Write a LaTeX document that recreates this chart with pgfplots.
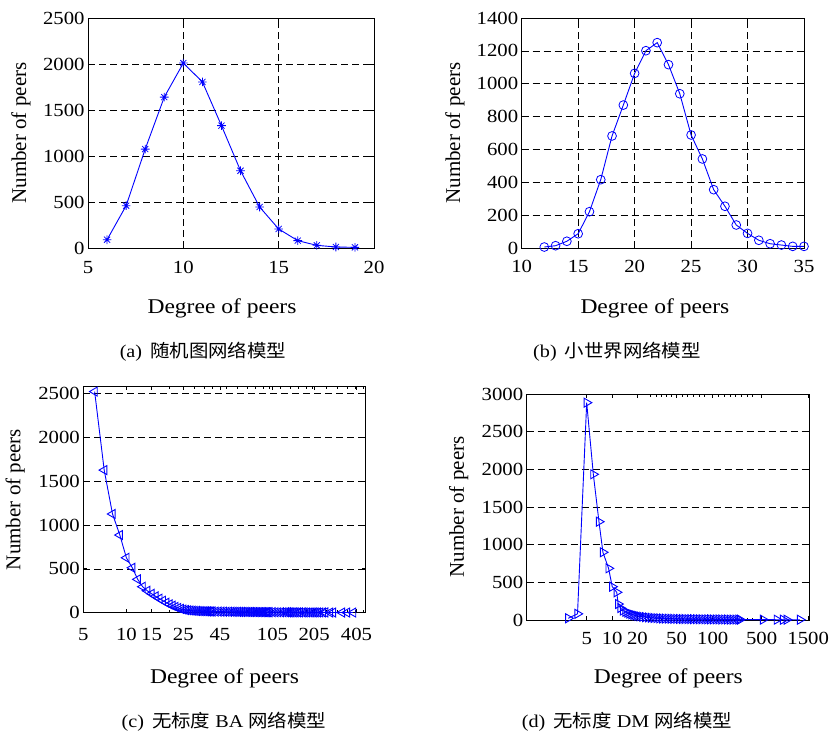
\documentclass[border=0pt]{standalone}
\usepackage{pgfplots}
\pgfplotsset{compat=1.18}
\usepackage{fontspec}
\setmainfont{Liberation Serif}[FakeStretch=1.12]
\newfontfamily\plainserif{Liberation Serif}
\newfontfamily\cjk{Noto Sans CJK SC}[FakeStretch=1.08]
\newcommand\ticksz{\fontsize{18.5bp}{20bp}\selectfont}
\newcommand\labsz{\fontsize{21bp}{24bp}\selectfont}
\newcommand\capsz{\fontsize{18bp}{20bp}\selectfont}

\pgfdeclareplotmark{mstar}{%
  \pgfpathmoveto{\pgfqpoint{-\pgfplotmarksize}{0pt}}\pgfpathlineto{\pgfqpoint{\pgfplotmarksize}{0pt}}%
  \pgfpathmoveto{\pgfqpoint{0pt}{-\pgfplotmarksize}}\pgfpathlineto{\pgfqpoint{0pt}{\pgfplotmarksize}}%
  \pgfpathmoveto{\pgfqpoint{-0.707\pgfplotmarksize}{-0.707\pgfplotmarksize}}\pgfpathlineto{\pgfqpoint{0.707\pgfplotmarksize}{0.707\pgfplotmarksize}}%
  \pgfpathmoveto{\pgfqpoint{-0.707\pgfplotmarksize}{0.707\pgfplotmarksize}}\pgfpathlineto{\pgfqpoint{0.707\pgfplotmarksize}{-0.707\pgfplotmarksize}}%
  \pgfusepathqstroke}

\pgfplotsset{
  mystyle/.style={
    scale only axis, anchor=south west,
    axis line style={line width=1bp, black},
    tick align=inside, major tick length=4bp, minor tick length=2.5bp,
    tick style={black, line width=0.7bp},
    grid style={black, line width=0.6bp, dash pattern=on 7bp off 4bp},
    every tick label/.append style={font=\ticksz},
    /pgf/number format/assume math mode=true,
    /pgf/number format/1000 sep={},
    scaled ticks=false,
    xlabel={Degree of peers}, ylabel={Number of peers},
    xlabel style={font=\labsz, anchor=center},
    ylabel style={font=\plainserif\labsz, anchor=center},
  },
  myline/.style={blue, line width=0.9bp, mark options={solid, line width=0.8bp}},
}

\begin{document}
\begin{tikzpicture}
\path[use as bounding box] (0,0) rectangle (831bp,-738bp);

% (a)
\begin{axis}[mystyle, at={(88bp,-248bp)}, width=286bp, height=230bp,
  xmin=5, xmax=20, ymin=0, ymax=2500,
  xtick={5,10,15,20}, ytick={0,500,1000,1500,2000,2500},
  grid=major,
  xticklabel style={yshift=-10bp},
  xlabel style={at={(axis description cs:0.4685,-0.261)}},
  ylabel style={at={(axis description cs:-0.234,0.5)}}]
\addplot[myline, mark=mstar, mark size=4.3bp] table {
6 90
7 460
8 1075
9 1640
10 2010
11 1805
12 1330
13 840
14 446
15 207
16 80
17 29
18 11
19 7
};
\end{axis}

% (b)
\begin{axis}[mystyle, at={(521.7bp,-248bp)}, width=282.3bp, height=230bp,
  xmin=10, xmax=35, ymin=0, ymax=1400,
  xtick={10,15,20,25,30,35}, ytick={0,200,400,600,800,1000,1200,1400},
  grid=major,
  xticklabel style={yshift=-9bp},
  xlabel style={at={(axis description cs:0.472,-0.261)}},
  ylabel style={at={(axis description cs:-0.236,0.5)}}]
\addplot[myline, mark=o, mark size=4.4bp] table {
12 6
13 14
14 41
15 87
16 221
17 416
18 682
19 870
20 1063
21 1201
22 1250
23 1116
24 939
25 688
26 542
27 355
28 254
29 140
30 89
31 47
32 26
33 18
34 10
35 10
};
\end{axis}

% (c)
\begin{axis}[mystyle, at={(83.3bp,-612.7bp)}, width=282.4bp, height=226.4bp,
  xmode=log, xmin=5, xmax=470, ymin=0, ymax=2580,
  xtick={5,10,15,25,45,105,205,405},
  xticklabels={5,10,15,25,45,105,205,405},
  minor xtick={20,30,35,40,50,60,70,80,90,100,120,140,160,180,200,250,300,350,400,450},
  ytick={0,500,1000,1500,2000,2500},
  ymajorgrids,
  xticklabel style={yshift=-12bp},
  xlabel style={at={(axis description cs:0.5,-0.288)}},
  ylabel style={at={(axis description cs:-0.241,0.5)}}]
\addplot[myline, mark=triangle, mark size=5.2bp, mark options={rotate=90}] table {
6 2520
7 1625
8 1125
9 885
10 626
11 512
12 380
13 296
14 250
15 216
16 187
17 160
18 137
19 114
20 95
21 80
22 66
23 54
24 44
25 36
26 31
27 28
28 25
29 23
30 21
31 20
32 19
33 18
34 17
35 17
36 16
37 15
38 15
39 14
40 14
42 13
44 13
46 12
48 12
50 11
52 11
54 11
56 10
58 10
60 10
62 9
64 9
66 9
68 9
70 8
72 8
74 8
76 8
78 8
80 7
82 7
84 7
86 7
88 7
90 7
92 6
94 6
96 6
98 6
100 6
105 6
110 5
115 5
120 5
125 5
130 5
134 5
138 4
142 4
147 4
152 4
158 4
163 4
170 4
176 3
183 3
190 3
196 3
203 3
210 3
218 3
226 3
236 3
245 3
265 2
278 2
321 2
348 2
384 2
};
\end{axis}

% (d)
\begin{axis}[mystyle, at={(526.7bp,-620bp)}, width=282.3bp, height=226bp,
  xmin=0, xmax=100, ymin=0, ymax=3000,
  xtick={21.25,30.3,39.2,53.1,65.9,83.2,99.7},
  xticklabels={5,10,20,50,100,500,1500},
  minor xtick={43.7,46,47.8,49.6,51.3,55,57,59,61,63,68,70,72,74,76,78,80},
  ytick={0,500,1000,1500,2000,2500,3000},
  ymajorgrids,
  xticklabel style={yshift=-8.5bp},
  xlabel style={at={(axis description cs:0.502,-0.257)}},
  ylabel style={at={(axis description cs:-0.241,0.5)}}]
\addplot[myline, mark=triangle, mark size=5.2bp, mark options={rotate=-90}] table {
14.7 23
18.0 82
21.25 2885
23.6 1934
25.6 1305
27.0 899
29.0 686
30.3 442
31.9 368
32.4 212
33.2 159
34.1 126
35 110
35.7 98
36.4 86
37.1 76
37.8 68
38.5 61
39.2 55
40 49
41 43
42 38
43 34
44 30
45 27
46 25
47 22
48 20
49 19
50 18
51 17
52 16
53 15
54 14
55 13
56 13
57 12
58 12
59 11
60 11
61 10
62 10
63 9
64 9
65 9
66 8
67 8
68 8
69 7
70 7
71 7
72 6
73 6
74 6
75 6
75.6 5
83.7 5
88.6 4
90.8 4
92.1 4
96.8 4
};
\end{axis}

\node[font=\capsz] at (203bp,-352bp) {(a)\hspace{8bp}{\cjk 随机图网络模型}};
\node[font=\capsz] at (617bp,-352bp) {(b)\hspace{8bp}{\cjk 小世界网络模型}};
\node[font=\capsz] at (224bp,-722bp) {(c)\hspace{8bp}{\cjk 无标度} BA {\cjk 网络模型}};
\node[font=\capsz] at (627bp,-722bp) {(d)\hspace{8bp}{\cjk 无标度} DM {\cjk 网络模型}};
\end{tikzpicture}
\end{document}
